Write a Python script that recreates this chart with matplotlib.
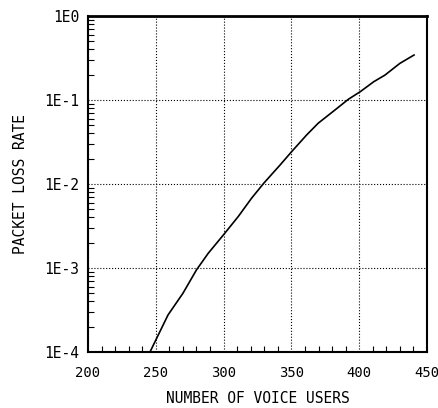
import numpy as np
import matplotlib
matplotlib.use("Agg")
import matplotlib.pyplot as plt
from matplotlib.ticker import FixedLocator, LogLocator, NullFormatter

# curve
users = [245.7, 259, 270, 280, 288.7, 299.8, 310.8, 320.7, 329.8, 341.6, 350.2, 361.2,
         369.8, 382.1, 392, 400.9, 410.7, 419, 430, 440.4]
loss = [1.0e-4, 2.76e-4, 5.0e-4, 9.5e-4, 1.5e-3, 2.47e-3, 4.1e-3, 6.8e-3, 1.03e-2, 1.68e-2,
        2.43e-2, 3.83e-2, 5.3e-2, 7.6e-2, 1.02e-1, 1.26e-1, 1.65e-1, 1.98e-1, 2.73e-1, 3.43e-1]

xticks = [200, 250, 300, 350, 400, 450]
yticks = [1e-4, 1e-3, 1e-2, 1e-1, 1e0]
ylabels = ["1E-4", "1E-3", "1E-2", "1E-1", "1E0"]

plt.rcParams['font.family'] = ['DejaVu Sans Mono']

fig = plt.figure(figsize=(4.39, 4.08), dpi=100)
ax = fig.add_axes([0.2005, 0.1373, 0.7722, 0.8235])

ax.plot(users, loss, color='black', lw=1.2)
ax.set_yscale('log')
ax.set_xlim(200, 450)
ax.set_ylim(1e-4, 1)

ax.set_xticks(xticks)
ax.set_xticklabels([str(t) for t in xticks], fontsize=10)
ax.xaxis.set_minor_locator(FixedLocator(np.arange(200, 451, 10)))
ax.set_yticks(yticks)
ax.set_yticklabels(ylabels, fontsize=10.5)
ax.yaxis.set_minor_locator(LogLocator(base=10, subs=np.arange(2, 10)))
ax.yaxis.set_minor_formatter(NullFormatter())

ax.tick_params(which='major', direction='in', length=0)
ax.tick_params(axis='x', which='major', pad=10)
ax.tick_params(axis='y', which='major', pad=6)
ax.tick_params(which='minor', direction='in', length=4, width=0.8)
ax.tick_params(axis='x', which='minor', top=False)

ax.grid(True, which='major', linestyle=':', color='black', lw=0.8)
for s in ax.spines.values():
    s.set_linewidth(1.5)
ax.spines['top'].set_linewidth(2)

ax.set_xlabel("NUMBER OF VOICE USERS", fontsize=10.5, labelpad=8)
ax.set_ylabel("PACKET LOSS RATE", fontsize=10.5, labelpad=12)

fig.savefig("out.png", dpi=100)
